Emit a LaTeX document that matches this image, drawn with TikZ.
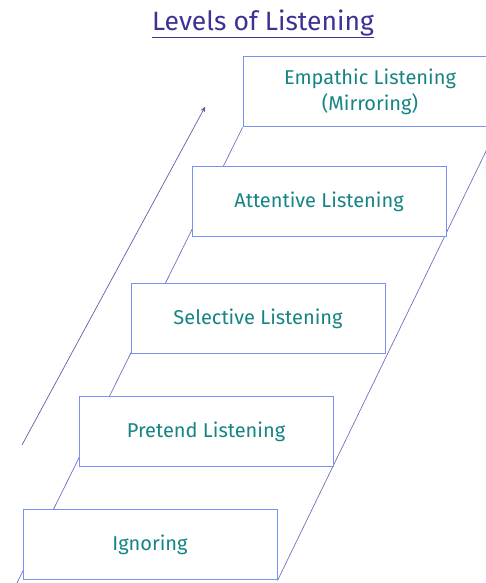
\documentclass[tikz,border=0pt]{standalone}
\usepackage{fontspec}
\setmainfont{Fira Sans}
\usepackage{xcolor}
\usetikzlibrary{arrows, positioning, backgrounds}

\definecolor{boxblue}{RGB}{120,146,242}
\definecolor{railblue}{RGB}{112,112,192}
\definecolor{tealtext}{RGB}{22,132,132}
\definecolor{titleblue}{RGB}{60,50,150}

\begin{document}
\begin{tikzpicture}[x=1pt, y=1pt, >=stealth', semithick]
    \tikzstyle{level}=[rectangle, draw=boxblue, line width=1pt, fill=white, minimum width=254pt, minimum height=70pt, inner sep=0pt, text=tealtext, font=\fontsize{20}{26}\selectfont, align=center]
    \tikzstyle{rail}=[draw=railblue, line width=0.7pt]

    \useasboundingbox (0,0) rectangle (486,583);

    \node (title) at (263,559) [text=titleblue, font=\fontsize{26.5}{30}\selectfont] {\underline{Levels of Listening}};

    \node[level]    (I) at (150,38)     {Ignoring};
    \node[level]    (P) at (206,151)    {Pretend Listening};
    \node[level]    (S) at (258,264)    {Selective Listening};
    \node[level]    (A) at (319,381)    {Attentive Listening};
    \node[level]    (E) at (370,491)    {Empathic Listening\\(Mirroring)};

    \coordinate (low) at (17,0);
    \coordinate (from) at (22,138);
    \coordinate (to) at (205,476);

    \begin{scope}[on background layer]
        \draw[rail] (low) -- (E.south west);
        \draw[rail] (I.south east) -- (E.south east);
    \end{scope}

    \draw[->, draw=titleblue!80, line width=0.7pt] (from) -- (to);
\end{tikzpicture}
\end{document}
